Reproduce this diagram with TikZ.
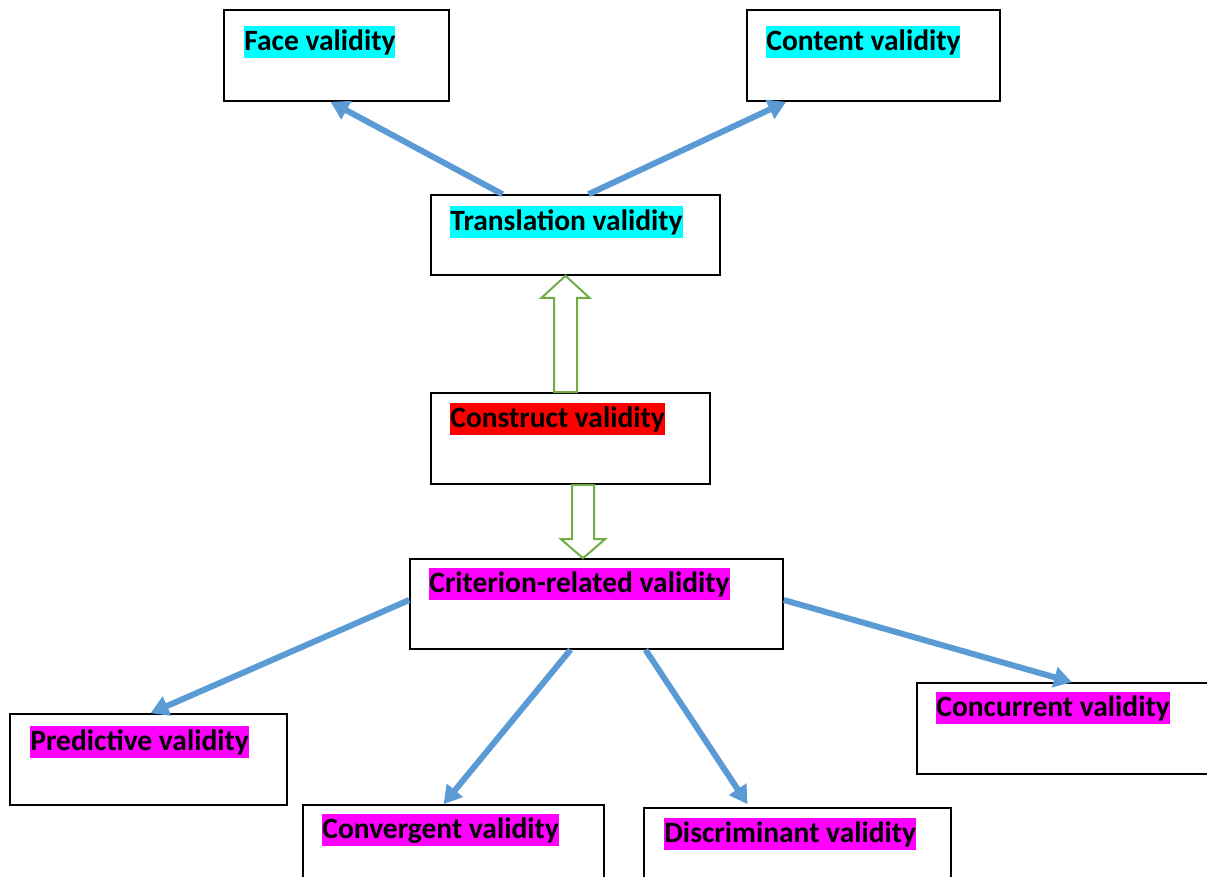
\documentclass[tikz,border=0pt]{standalone}
\usepackage{fontspec}
\setmainfont{Carlito}
\usetikzlibrary{positioning,calc,arrows.meta}
\definecolor{myblue}{HTML}{5B9BD5}
\definecolor{mygreen}{HTML}{70AD47}
\definecolor{mycyan}{HTML}{00FFFF}
\definecolor{myred}{HTML}{FF0000}
\definecolor{mymagenta}{HTML}{FF00FF}
\tikzset{
	box/.style={draw=black, line width=1.6pt, fill=white, minimum height=91pt, inner sep=0pt},
	tag/.style={fill=#1, anchor=north west, inner xsep=0pt, inner ysep=0pt, text height=24pt, text depth=8pt, font=\fontsize{29.5}{34}\selectfont\bfseries},
	link/.style={draw=myblue, line width=6pt, -{Triangle[length=18pt,width=20pt]}},
	hollow/.style={draw=mygreen, line width=2pt, fill=white, line join=miter}
}
\begin{document}
\begin{tikzpicture}[x=1pt,y=-1pt]
		\useasboundingbox (0,0) rectangle (1207,876);
		%% the boxes, placed at their centres
		\node[box, minimum width=225pt] (face) at (336.5,55.5) {};
		\node[box, minimum width=253pt] (content) at (873.5,55.5) {};
		\node[box, minimum width=289pt, minimum height=80pt] (translation) at (575.5,235) {};
		\node[box, minimum width=279pt] (construct) at (570.5,438.5) {};
		\node[box, minimum width=373pt, minimum height=90pt] (criterion) at (596.5,604) {};
		\node[box, minimum width=277pt] (predictive) at (148.5,759.5) {};
		\node[box, minimum width=301pt] (convergent) at (453.5,850.5) {};
		\node[box, minimum width=307pt] (discriminant) at (797.5,853.5) {};
		\node[box, minimum width=300pt] (concurrent) at (1067,728.5) {};
		%% highlighted texts in the upper left corner of each box
		\node[tag=mycyan] (faceT) at ($(face.north west)+(21,17)$) {Face validity};
		\node[tag=mycyan] (contentT) at ($(content.north west)+(20,17)$) {Content validity};
		\node[tag=mycyan] (translationT) at ($(translation.north west)+(20,12)$) {Translation validity};
		\node[tag=myred] (constructT) at ($(construct.north west)+(20,11)$) {Construct validity};
		\node[tag=mymagenta] (criterionT) at ($(criterion.north west)+(20,10)$) {Criterion-related validity};
		\node[tag=mymagenta] (predictiveT) at ($(predictive.north west)+(21,13)$) {Predictive validity};
		\node[tag=mymagenta] (convergentT) at ($(convergent.north west)+(20,10)$) {Convergent validity};
		\node[tag=mymagenta] (discriminantT) at ($(discriminant.north west)+(21,11)$) {Discriminant validity};
		\node[tag=mymagenta] (concurrentT) at ($(concurrent.north west)+(20,10)$) {Concurrent validity};
		%% blue arrows
		\draw[link] ([xshift=-73pt]translation.north) -- ([xshift=-6pt]face.south);
		\draw[link] ([xshift=13pt]translation.north) -- ([xshift=40pt]content.south west);
		\draw[link] ([yshift=4pt]criterion.west) -- ([xshift=2pt]predictive.north);
		\draw[link] ([xshift=-26pt]criterion.south) -- ([xshift=-10pt]convergent.north);
		\draw[link] ([xshift=49pt]criterion.south) -- ([xshift=-50pt,yshift=3pt]discriminant.north);
		\draw[link] ([yshift=4pt]criterion.east) -- ([xshift=5pt]concurrent.north);
		%% the two hollow green arrows
		\coordinate (upfoot) at ([xshift=-5pt]construct.north);
		\coordinate (uptip) at (upfoot |- translation.south);
		\coordinate (dnfoot) at ([xshift=12.5pt]construct.south);
		\coordinate (dntip) at (dnfoot |- criterion.north);
		\draw[hollow] ($(upfoot)+(-11.5,0)$) -- ($(uptip)+(-11.5,22)$) -- ($(uptip)+(-24,22)$) -- (uptip)
			-- ($(uptip)+(24,22)$) -- ($(uptip)+(11.5,22)$) -- ($(upfoot)+(11.5,0)$) -- cycle;
		\draw[hollow] ($(dnfoot)+(-11,0)$) -- ($(dntip)+(-11,-19)$) -- ($(dntip)+(-22,-19)$) -- (dntip)
			-- ($(dntip)+(22,-19)$) -- ($(dntip)+(11,-19)$) -- ($(dnfoot)+(11,0)$) -- cycle;
	\end{tikzpicture}
\end{document}
